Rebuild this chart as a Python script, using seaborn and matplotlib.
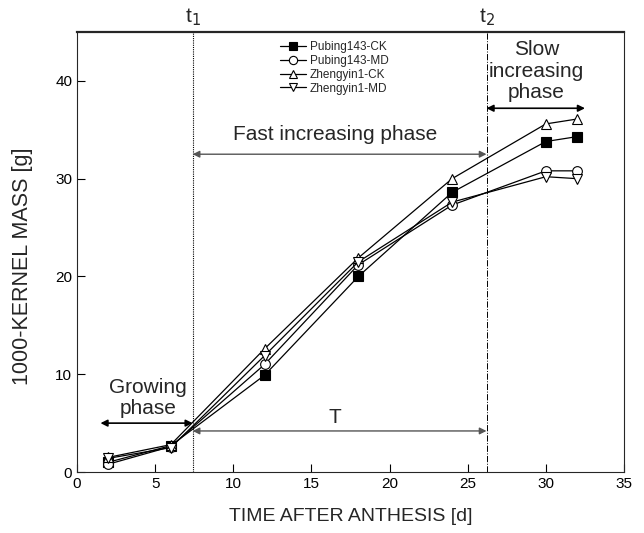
import matplotlib
matplotlib.use("Agg")
import matplotlib.pyplot as plt
import seaborn as sns
import pandas as pd

sns.set_style("ticks")
plt.rcParams['font.family'] = ['Liberation Sans', 'DejaVu Sans']

days = [2, 6, 12, 18, 24, 30, 32]
series_names = ["Pubing143-CK", "Pubing143-MD", "Zhengyin1-CK", "Zhengyin1-MD"]
pubing_ck = [1.0, 2.7, 9.9, 20.0, 28.6, 33.8, 34.3]
pubing_md = [0.8, 2.6, 11.0, 21.2, 27.3, 30.8, 30.8]
zhengyin_ck = [1.5, 2.8, 12.6, 21.9, 30.0, 35.6, 36.1]
zhengyin_md = [1.4, 2.5, 11.9, 21.5, 27.6, 30.2, 30.0]
t1, t2 = 7.4, 26.2

values = [pubing_ck, pubing_md, zhengyin_ck, zhengyin_md]
df = pd.DataFrame({
    "day": days * 4,
    "mass": sum(values, []),
    "series": sum([[n] * len(days) for n in series_names], []),
})

markers = {"Pubing143-CK": "s", "Pubing143-MD": "o", "Zhengyin1-CK": "^", "Zhengyin1-MD": "v"}
faces = {"Pubing143-CK": "black", "Pubing143-MD": "white", "Zhengyin1-CK": "white", "Zhengyin1-MD": "white"}

fig = plt.figure(figsize=(6.44, 5.33), dpi=100)
ax = fig.add_axes([0.1196, 0.1144, 0.8494, 0.8256])

for name in series_names:
    sns.lineplot(data=df[df.series == name], x="day", y="mass", ax=ax,
                 color="black", lw=0.9, marker=markers[name], markersize=7,
                 markerfacecolor=faces[name], markeredgecolor="black",
                 markeredgewidth=0.8, label=name)

ax.set_xlim(0, 35)
ax.set_ylim(0, 45)
ax.set_xticks(range(0, 36, 5))
ax.set_yticks(range(0, 41, 10))
ax.tick_params(direction="in", length=6, width=0.8, labelsize=11, colors="black")
for s in ax.spines.values():
    s.set_linewidth(0.8)
ax.spines["top"].set_linewidth(1.6)
ax.set_xlabel("TIME AFTER ANTHESIS [d]", fontsize=14, labelpad=12)
ax.set_ylabel("1000-KERNEL MASS [g]", fontsize=15.5)
ax.yaxis.set_label_coords(-0.080, 0.468)

ax.axvline(t1, color="black", lw=0.8, ls=(0, (1, 1)))
ax.axvline(t2, color="black", lw=0.7, ls="-.")

ap = dict(arrowstyle="<|-|>", color="black", lw=1.2, mutation_scale=10, shrinkA=0, shrinkB=0)
ap2 = dict(arrowstyle="<|-|>", color="#555555", lw=1.0, mutation_scale=10, shrinkA=0, shrinkB=0)
ax.annotate("", xy=(1.5, 5.0), xytext=(t1, 5.0), arrowprops=ap)
ax.annotate("", xy=(t1, 4.2), xytext=(t2, 4.2), arrowprops=ap2)
ax.annotate("", xy=(t1, 32.5), xytext=(t2, 32.5), arrowprops=ap2)
ax.annotate("", xy=(t2, 37.2), xytext=(32.5, 37.2), arrowprops=ap)

ax.text(4.55, 7.6, "Growing\nphase", ha="center", va="center", fontsize=15, linespacing=1.15)
ax.text(16.5, 5.6, "T", ha="center", va="center", fontsize=15)
ax.text(16.5, 34.5, "Fast increasing phase", ha="center", va="center", fontsize=15)
ax.text(29.4, 41.0, "Slow\nincreasing\nphase", ha="center", va="center", fontsize=15, linespacing=1.15)
ax.text(t1, 45.4, "t$_1$", ha="center", va="bottom", fontsize=15)
ax.text(t2, 45.4, "t$_2$", ha="center", va="bottom", fontsize=15)

ax.legend(loc="upper center", bbox_to_anchor=(0.47, 0.995), frameon=False, fontsize=8.5,
          handlelength=2.2, labelspacing=0.15, handletextpad=0.3, borderaxespad=0.2,
          markerscale=0.85)

fig.savefig("out.png", dpi=100)
